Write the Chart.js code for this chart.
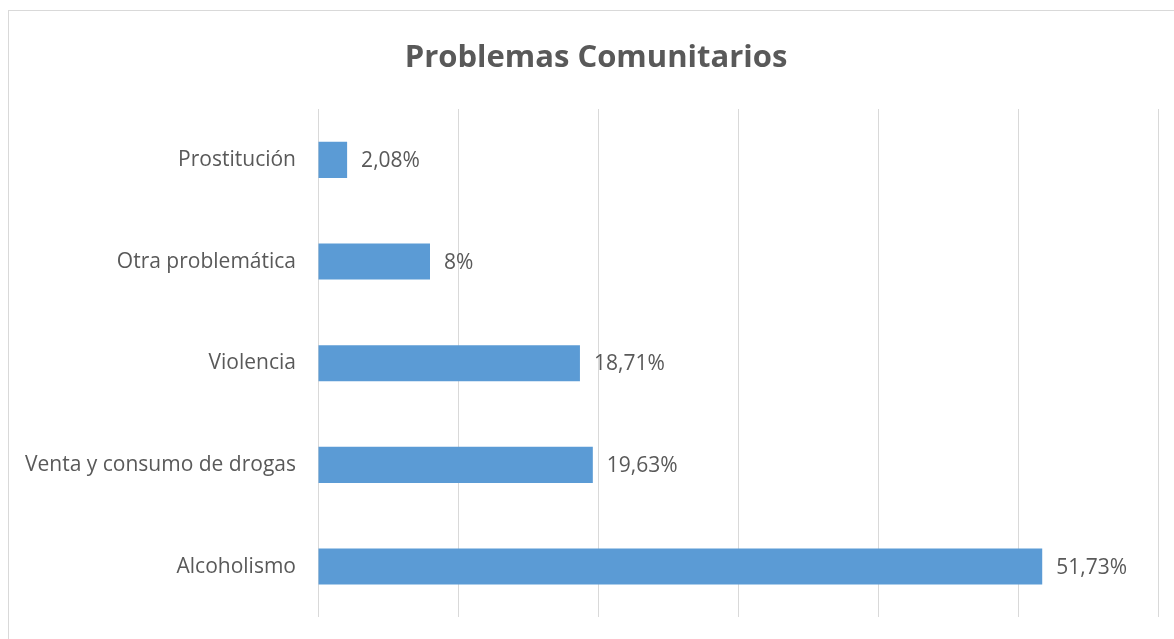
<!DOCTYPE html>
<html>
<head>
<meta charset="utf-8">
<script src="https://cdn.jsdelivr.net/npm/chart.js@4"></script>
<style>
  html, body { margin: 0; padding: 0; background: #fff; overflow: hidden; }
  #frame {
    position: absolute; left: 8px; top: 10px;
    width: 1200px; height: 700px;
    border: 1px solid #D9D9D9;
  }
  #wrap { position: absolute; left: 0; top: 0; width: 1174px; height: 644px; }
</style>
</head>
<body>
<div id="frame"></div>
<div id="wrap"><canvas id="myChart"></canvas></div>
<script>
// Chart data
const categories = ['Prostitución', 'Otra problemática', 'Violencia', 'Venta y consumo de drogas', 'Alcoholismo'];
const values = [2.08, 8, 18.71, 19.63, 51.73];
const xTicks = [0, 10, 20, 30, 40, 50, 60];

const FONT = '"Open Sans", Lato, sans-serif';
const GREY = '#595959';

// Draw the value labels next to every bar
const barLabels = {
    id: 'barLabels',
    afterLayout(chart) {
        // let long category names run past the left padding instead of being clipped
        chart.scales.y.left = 0;
    },
    afterDatasetsDraw(chart) {
        const ctx = chart.ctx;
        const meta = chart.getDatasetMeta(0);
        ctx.save();
        ctx.font = '21px ' + FONT;
        ctx.fillStyle = GREY;
        ctx.textAlign = 'left';
        ctx.textBaseline = 'middle';
        meta.data.forEach(function(bar, i) {
            const txt = String(values[i]).replace('.', ',') + '%';
            ctx.fillText(txt, bar.x + 14, bar.y + 1);
        });
        ctx.restore();
    }
};

new Chart(document.getElementById('myChart'), {
    type: 'bar',
    data: {
        labels: categories,
        datasets: [{
            data: values,
            backgroundColor: '#5B9BD5',
            borderWidth: 0,
            categoryPercentage: 1,
            barPercentage: 0.355
        }]
    },
    options: {
        indexAxis: 'y',
        responsive: true,
        maintainAspectRatio: false,
        animation: false,
        layout: { padding: { left: 34, right: 16, top: 0, bottom: 2 } },
        plugins: {
            legend: { display: false },
            tooltip: { enabled: false },
            title: {
                display: true,
                text: 'Problemas Comunitarios',
                color: GREY,
                font: { family: FONT, size: 31, weight: 'bold', lineHeight: 1.2 },
                padding: { top: 40, bottom: 31.8 }
            }
        },
        scales: {
            x: {
                min: xTicks[0],
                max: xTicks[xTicks.length - 1],
                afterBuildTicks: function(scale) {
                    scale.ticks = xTicks.map(function(v) { return { value: v }; });
                },
                ticks: { display: false },
                grid: { color: '#D9D9D9', lineWidth: 1, drawTicks: false },
                border: { display: false },
                afterFit: function(scale) { scale.height = 0; }
            },
            y: {
                ticks: { color: GREY, font: { family: FONT, size: 21 }, padding: 14 },
                grid: { display: false },
                border: { display: false },
                afterFit: function(scale) { scale.width = 284; }
            }
        }
    },
    plugins: [barLabels]
});
</script>
</body>
</html>
